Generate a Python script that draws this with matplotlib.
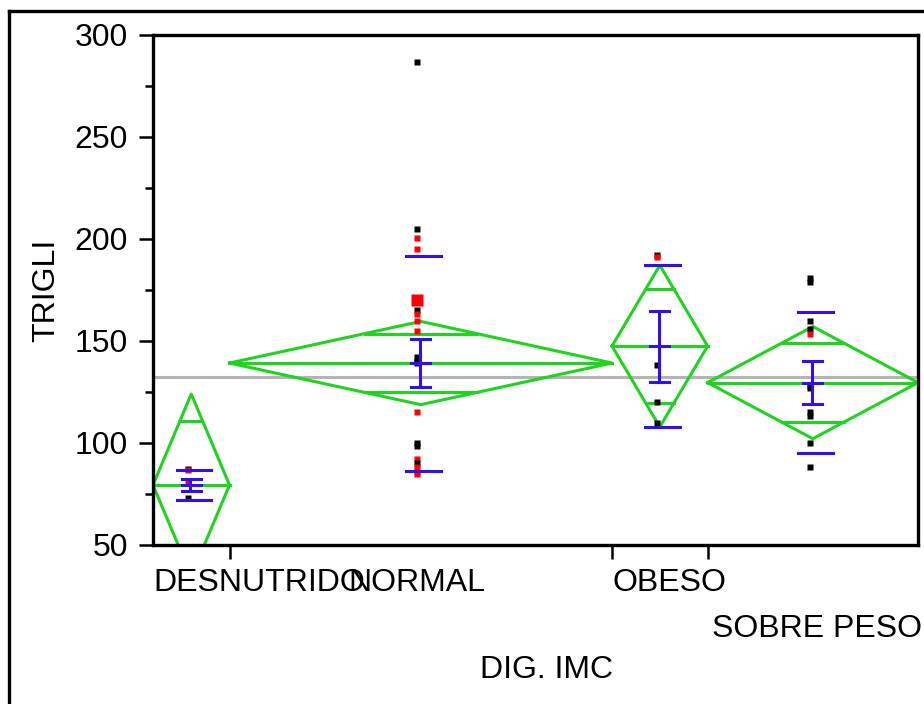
import matplotlib
matplotlib.use("Agg")
import numpy as np
import matplotlib.pyplot as plt
from matplotlib.lines import Line2D
from matplotlib.ticker import MultipleLocator
from matplotlib.transforms import blended_transform_factory

plt.rcParams['font.family'] = ['Liberation Sans', 'DejaVu Sans']

# groups, sizes and summary stats
groups = ["DESNUTRIDO", "NORMAL", "OBESO", "SOBRE PESO"]
counts = [4, 20, 5, 11]
means = [79.4, 139.2, 147.5, 129.6]
ci_half = [44.6, 20.4, 39.6, 27.5]
sd = [7.2, 52.7, 39.6, 34.6]
se = [3.0, 11.8, 17.4, 10.4]
grand_mean = 132.4

# individual values (k = black, r = red)
desnutrido = [87.5, 87.0, 81.0, 73.0]
desnutrido_col = ['k', 'r', 'r', 'k']
normal = [287, 205, 200.5, 195, 170, 165, 163, 160, 155, 142, 140, 139,
          115, 100, 98.5, 92, 90, 88, 86, 85]
normal_col = ['k', 'k', 'r', 'r', 'r', 'k', 'r', 'r', 'r', 'k', 'k', 'k',
              'r', 'k', 'k', 'r', 'k', 'r', 'r', 'r']
obeso = [192, 191, 138, 120, 110]
obeso_col = ['k', 'r', 'k', 'k', 'k']
sobrepeso = [181, 179, 160, 156, 153.5, 128, 127, 115, 113, 100, 88]
sobrepeso_col = ['k', 'k', 'k', 'k', 'r', 'k', 'k', 'k', 'k', 'k', 'k']

values = [desnutrido, normal, obeso, sobrepeso]
colors = [desnutrido_col, normal_col, obeso_col, sobrepeso_col]

GREEN = '#1fd41f'
BLUE = '#3010ee'
RED = '#ff0000'
LW = 2.2
FS = 23

fig = plt.figure(figsize=(9.24, 7.04), dpi=100)
ax = fig.add_axes([153/924, 1-545/704, 765/924, 510/704])

edges = np.concatenate([[0], np.cumsum(counts)])
total = edges[-1]

ax.axhline(grand_mean, color='#b4b4b4', lw=2.2, zorder=1)

for i in range(len(groups)):
    x0, x1 = edges[i], edges[i+1]
    xc = (x0 + x1) / 2
    m, c = means[i], ci_half[i]
    # means diamond
    ax.plot([x0, xc, x1, xc, x0], [m, m+c, m, m-c, m], color=GREEN, lw=LW, zorder=2)
    ax.plot([x0, x1], [m, m], color=GREEN, lw=LW, zorder=2)
    ov = c / np.sqrt(2)
    hw = (x1 - x0) / 2 * (1 - 1/np.sqrt(2))
    for y in (m + ov, m - ov):
        ax.plot([xc - hw, xc + hw], [y, y], color=GREEN, lw=LW, zorder=2)
    # points
    for v, col in zip(values[i], colors[i]):
        big = (i == 1 and v == 170)
        ax.plot(xc - 0.17, v, marker='s', ls='none',
                ms=8.5 if big else 4.2, mec='none',
                color=RED if col == 'r' else 'black', zorder=4)
    # std dev lines
    for y in (m + sd[i], m - sd[i]):
        ax.plot([xc - 0.75, xc + 1.05], [y, y], color=BLUE, lw=LW, zorder=5)
    # mean error bar
    ax.plot([xc - 0.05, xc - 0.05], [m - se[i], m + se[i]], color=BLUE, lw=LW, zorder=5)
    for y in (m - se[i], m, m + se[i]):
        ax.plot([xc - 0.5, xc + 0.5], [y, y], color=BLUE, lw=LW, zorder=5)

ax.set_xlim(0, total)
ax.set_ylim(50, 300)
ax.yaxis.set_major_locator(MultipleLocator(50))
ax.yaxis.set_minor_locator(MultipleLocator(25))
ax.tick_params(axis='y', which='major', length=10, width=1.8, labelsize=FS, pad=8)
ax.tick_params(axis='y', which='minor', length=5.8, width=1.8)
ax.set_xticks(edges[1:-1])
ax.set_xticklabels([])
ax.tick_params(axis='x', which='major', length=10, width=1.8)
for s in ax.spines.values():
    s.set_linewidth(2.4)

ax.set_ylabel('TRIGLI', fontsize=FS)
ax.yaxis.set_label_coords(-(153-61)/765, 0.5)

tr = blended_transform_factory(ax.transData, fig.transFigure)
ax.text(edges[0], 1-583/704, groups[0], transform=tr, ha='left', va='center', fontsize=FS, clip_on=False)
ax.text((edges[1]+edges[2])/2 - 0.2, 1-583/704, groups[1], transform=tr, ha='center', va='center', fontsize=FS, clip_on=False)
ax.text(edges[2] + 0.05, 1-583/704, groups[2], transform=tr, ha='left', va='center', fontsize=FS, clip_on=False)
ax.text(edges[3] + 0.25, 1-629/704, groups[3], transform=tr, ha='left', va='center', fontsize=FS, clip_on=False)
ax.text(20.6, 1-670/704, 'DIG. IMC', transform=tr, ha='center', va='center', fontsize=FS, clip_on=False)

# outer frame
fig.add_artist(Line2D([9/924, 1], [1-11/704, 1-11/704], transform=fig.transFigure, color='black', lw=2.4))
fig.add_artist(Line2D([9/924, 9/924], [0, 1-11/704], transform=fig.transFigure, color='black', lw=2.4))

fig.savefig('out.png', dpi=100)
